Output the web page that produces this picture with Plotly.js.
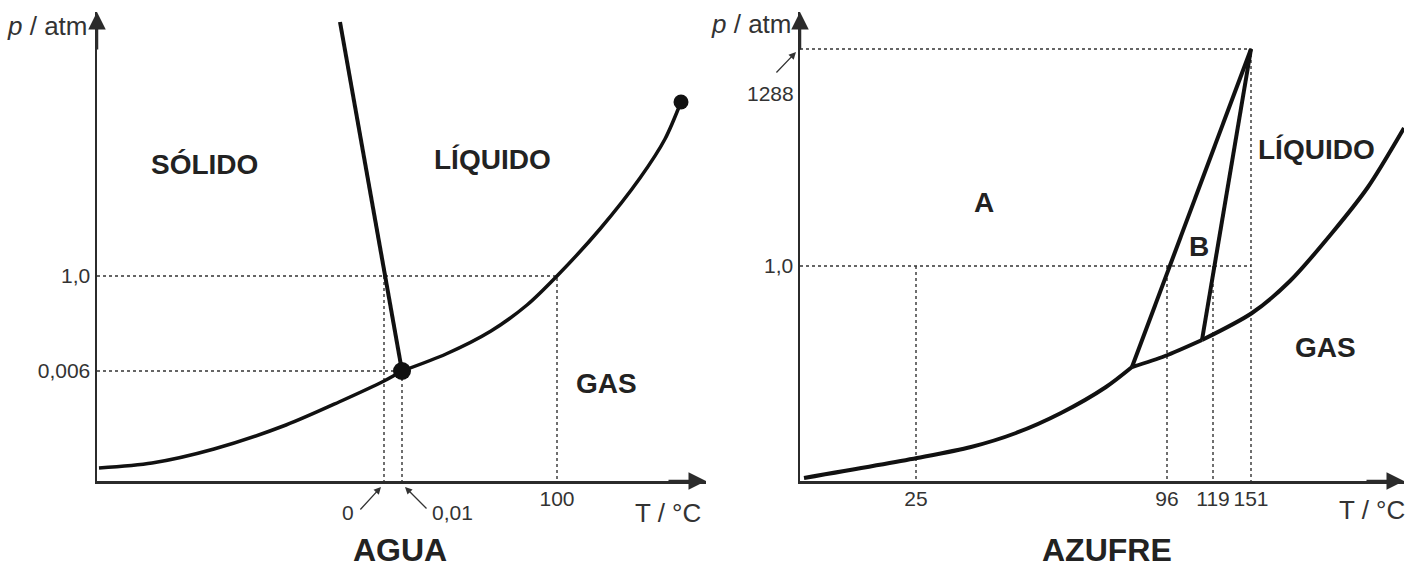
<!DOCTYPE html>
<html>
<head>
<meta charset="utf-8">
<script src="https://cdn.plot.ly/plotly-3.0.1.min.js"></script>
<style>
  html, body { margin: 0; padding: 0; background: #ffffff; }
  #chart { width: 1408px; height: 571px; }
</style>
</head>
<body>
<div id="chart"></div>
<script>
// ---------- AGUA (schematic diagram units along each axis) ----------
const aguaSubT = [2, 55, 117, 189, 242, 287, 305];
const aguaSubP = [13, 18, 32, 56, 79, 100, 110];
const aguaVapT = [305, 349, 394, 430, 460, 503, 543, 568, 584];
const aguaVapP = [110, 127, 150, 176, 205, 252, 303, 342, 379];
const aguaFusT = [243, 305];
const aguaFusP = [459, 110];
const aguaTripleT = [305];
const aguaTripleP = [110];
const aguaCritT = [584];
const aguaCritP = [379];
const aguaTickT = [460];
const aguaTickTText = ['100'];
const aguaTickP = [205, 110];
const aguaTickPText = ['1,0', '0,006'];
const aguaFreezeT = 287;          // 0 °C guide
const aguaArrowT = [287, 305];
const aguaArrowText = ['0', '0,01'];
const aguaRegions = ['<b>SÓLIDO</b>', '<b>LÍQUIDO</b>', '<b>GAS</b>'];
const aguaRegionT = [107, 395, 509];
const aguaRegionP = [316, 321, 98];

// ---------- AZUFRE ----------
const azRhVapT = [4, 117, 171, 216, 261, 306, 332];
const azRhVapP = [3, 23, 34, 48, 68, 94, 114];
const azMoVapT = [332, 365, 402];
const azMoVapP = [114, 125, 141];
const azLiqVapT = [402, 452, 490, 532, 568, 604];
const azLiqVapP = [141, 168, 200, 248, 294, 353];
const azRhMoT = [332, 451];
const azRhMoP = [114, 432];
const azMoLiqT = [402, 451];
const azMoLiqP = [141, 432];
const azTickT = [116, 367, 413, 451];
const azTickTText = ['25', '96', '119', '151'];
const azTickP = [215];
const azTickPText = ['1,0'];
const azTopP = 432;               // 1288 atm level
const azTopText = '1288';
const azRegions = ['<b>A</b>', '<b>B</b>', '<b>LÍQUIDO</b>', '<b>GAS</b>'];
const azRegionT = [184, 399, 516, 525];
const azRegionP = [278, 234, 331, 134];

// ---------- styling ----------
const W = 1408, H = 571;
const INK = '#111111';
const AXC = '#2b2b2b';
const TXT = '#333333';
const FONT = 'Liberation Sans, Arial, sans-serif';

const curve = (x, y, xa, ya, w, shape) => ({
  x, y, xaxis: xa, yaxis: ya, type: 'scatter', mode: 'lines',
  line: { color: INK, width: w || 4, shape: shape || 'spline', smoothing: 0.8 },
  hoverinfo: 'skip', cliponaxis: false, showlegend: false
});
const guide = (x, y, xa, ya) => ({
  x, y, xaxis: xa, yaxis: ya, type: 'scatter', mode: 'lines',
  line: { color: '#333', width: 1.4, dash: 'dot' },
  hoverinfo: 'skip', cliponaxis: false, showlegend: false
});
const dot = (x, y, xa, ya, s) => ({
  x, y, xaxis: xa, yaxis: ya, type: 'scatter', mode: 'markers',
  marker: { color: INK, size: s }, hoverinfo: 'skip', cliponaxis: false, showlegend: false
});

const traces = [
  // AGUA guides
  guide([0, aguaTickT[0], aguaTickT[0]], [aguaTickP[0], aguaTickP[0], 0], 'x', 'y'),
  guide([0, aguaTripleT[0], aguaTripleT[0]], [aguaTripleP[0], aguaTripleP[0], 0], 'x', 'y'),
  guide([aguaFreezeT, aguaFreezeT], [aguaTickP[0], 0], 'x', 'y'),
  // AGUA curves
  curve(aguaSubT, aguaSubP, 'x', 'y', 3.5),
  curve(aguaVapT, aguaVapP, 'x', 'y', 3.5),
  curve(aguaFusT, aguaFusP, 'x', 'y', 4, 'linear'),
  dot(aguaTripleT, aguaTripleP, 'x', 'y', 18),
  dot(aguaCritT, aguaCritP, 'x', 'y', 15),

  // AZUFRE guides
  guide([0, azTickT[3], azTickT[3]], [azTopP, azTopP, 0], 'x2', 'y2'),
  guide([0, azTickT[3]], [azTickP[0], azTickP[0]], 'x2', 'y2'),
  guide([azTickT[0], azTickT[0]], [azTickP[0], 0], 'x2', 'y2'),
  guide([azTickT[1], azTickT[1]], [azTickP[0], 0], 'x2', 'y2'),
  guide([azTickT[2], azTickT[2]], [azTickP[0], 0], 'x2', 'y2'),
  // AZUFRE curves
  curve(azRhVapT, azRhVapP, 'x2', 'y2', 4),
  curve(azMoVapT, azMoVapP, 'x2', 'y2', 4),
  curve(azLiqVapT, azLiqVapP, 'x2', 'y2', 4),
  curve(azRhMoT, azRhMoP, 'x2', 'y2', 4, 'linear'),
  curve(azMoLiqT, azMoLiqP, 'x2', 'y2', 4, 'linear')
];

const tickFont = { family: FONT, size: 21, color: TXT };
const axBase = {
  showgrid: false, zeroline: false, showline: true, linewidth: 2.5, linecolor: AXC,
  ticks: '', fixedrange: true, tickfont: tickFont, tickmode: 'array', tickangle: 0
};
const yDom = [90 / H, 559 / H];
const ax1 = { domain: [97 / W, 706 / W], range: [0, 609] };
const ay1 = { domain: yDom, range: [0, 469] };
const ax2 = { domain: [800 / W, 1404 / W], range: [0, 604] };
const ay2 = { domain: yDom, range: [0, 469] };
const toPaper = (a, v) => a.domain[0] + (v - a.range[0]) / (a.range[1] - a.range[0]) * (a.domain[1] - a.domain[0]);

const annotations = [];
// axis arrowheads
function axisArrow(xr, yr, x, y, ax, ay) {
  annotations.push({ xref: xr, yref: yr, axref: xr, ayref: yr, x, y, ax, ay, text: '',
    showarrow: true, arrowhead: 2, arrowsize: 1.4, arrowwidth: 2.5, arrowcolor: AXC });
}
axisArrow('x', 'y', 0, 469, 0, 430);
axisArrow('x', 'y', 609, 0, 570, 0);
axisArrow('x2', 'y2', 0, 469, 0, 430);
axisArrow('x2', 'y2', 604, 0, 565, 0);

// arrowed tick labels (below / left of the axes, so placed in paper space)
const smallArrow = (xa, ya, x, y, dx, dy) => annotations.push({
  xref: 'paper', yref: 'paper', x: toPaper(xa, x), y: toPaper(ya, y), ax: dx, ay: dy, text: '',
  showarrow: true, arrowhead: 2, arrowsize: 1.1, arrowwidth: 1.3, arrowcolor: TXT });
const smallText = (xa, ya, x, y, t) => annotations.push({
  xref: 'paper', yref: 'paper', x: toPaper(xa, x), y: toPaper(ya, y), text: t,
  showarrow: false, font: tickFont, xanchor: 'center', yanchor: 'middle' });

smallArrow(ax1, ay1, aguaArrowT[0] - 3, -6, -22, 24);
smallText(ax1, ay1, aguaArrowT[0] - 36, -31, aguaArrowText[0]);
smallArrow(ax1, ay1, aguaArrowT[1] + 3, -6, 23, 23);
smallText(ax1, ay1, aguaArrowT[1] + 50, -31, aguaArrowText[1]);
smallArrow(ax2, ay2, -4, azTopP - 3, -21, 22);
smallText(ax2, ay2, -30, azTopP - 45, azTopText);

// region labels
const regFont = { family: FONT, size: 28, color: '#222' };
aguaRegions.forEach((t, i) => annotations.push({ xref: 'x', yref: 'y', x: aguaRegionT[i], y: aguaRegionP[i],
  text: t, showarrow: false, font: regFont, xanchor: 'center', yanchor: 'middle' }));
azRegions.forEach((t, i) => annotations.push({ xref: 'x2', yref: 'y2', x: azRegionT[i], y: azRegionP[i],
  text: t, showarrow: false, font: regFont, xanchor: 'center', yanchor: 'middle' }));

// axis names and diagram titles
const nameFont = { family: FONT, size: 26, color: TXT };
const paperText = (px, py, text, font) => annotations.push({ xref: 'paper', yref: 'paper',
  x: px / W, y: 1 - py / H, text, showarrow: false, font, xanchor: 'center', yanchor: 'middle' });
paperText(47, 26, '<i>p</i> / atm', nameFont);
paperText(751, 24, '<i>p</i> / atm', nameFont);
paperText(668, 513, 'T / °C', nameFont);
paperText(1372, 510, 'T / °C', nameFont);
const titleFont = { family: FONT, size: 32, color: '#222' };
paperText(400, 550, '<b>AGUA</b>', titleFont);
paperText(1107, 550, '<b>AZUFRE</b>', titleFont);

const layout = {
  width: W, height: H,
  margin: { l: 0, r: 0, t: 0, b: 0 },
  paper_bgcolor: '#ffffff', plot_bgcolor: 'rgba(0,0,0,0)',
  showlegend: false,
  xaxis: { ...axBase, ...ax1, anchor: 'y', tickvals: aguaTickT, ticktext: aguaTickTText, ticklabelstandoff: -3 },
  yaxis: { ...axBase, ...ay1, anchor: 'x', tickvals: aguaTickP, ticktext: aguaTickPText },
  xaxis2: { ...axBase, ...ax2, anchor: 'y2', tickvals: azTickT, ticktext: azTickTText, ticklabelstandoff: -3 },
  yaxis2: { ...axBase, ...ay2, anchor: 'x2', tickvals: azTickP, ticktext: azTickPText },
  annotations
};

Plotly.newPlot('chart', traces, layout, { staticPlot: true, displayModeBar: false });
</script>
</body>
</html>
